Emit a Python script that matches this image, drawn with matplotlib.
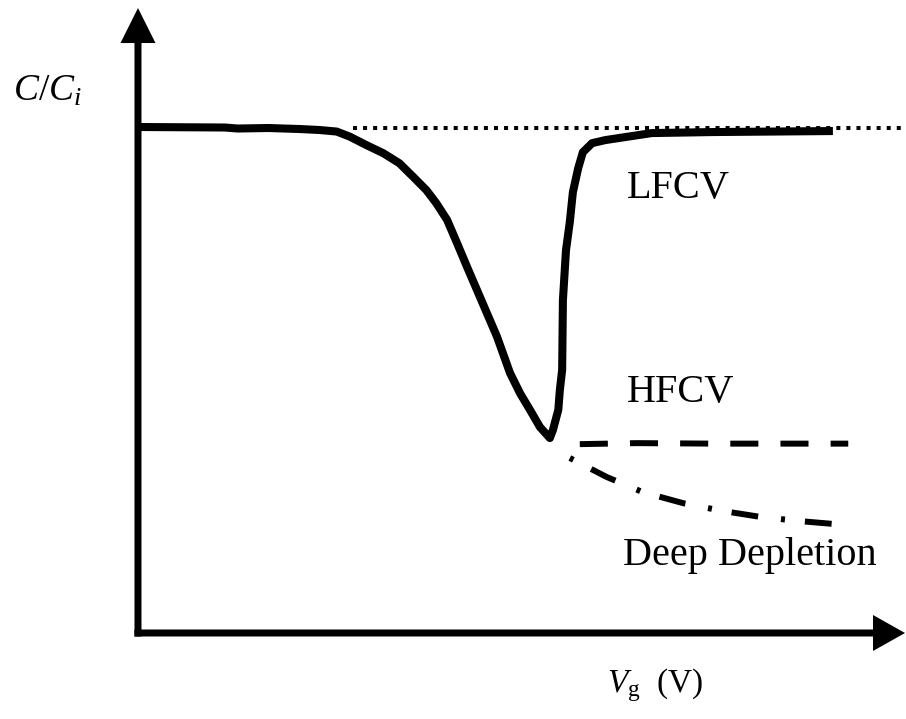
import matplotlib
matplotlib.use("Agg")
import matplotlib.pyplot as plt

plt.rcParams['font.family'] = ['Liberation Serif', 'DejaVu Serif']
plt.rcParams['mathtext.fontset'] = 'custom'
plt.rcParams['mathtext.rm'] = 'Liberation Serif'
plt.rcParams['mathtext.it'] = 'Liberation Serif:italic'

# Low-frequency C-V curve (gate voltage in arbitrary units, normalised capacitance)
lf_v = [0.00, 1.13, 1.30, 1.70, 2.11, 2.37, 2.59, 2.76, 2.98, 3.20, 3.41, 3.59, 3.76,
        3.89, 4.03, 4.16, 4.29, 4.42, 4.55, 4.68, 4.85, 4.98, 5.11, 5.24, 5.37, 5.41,
        5.48, 5.50, 5.53, 5.54, 5.58, 5.63, 5.67, 5.74, 5.80, 5.92, 6.09, 6.35, 6.70,
        7.50, 9.06]
lf_c = [1.002, 1.001, 0.999, 1.000, 0.998, 0.996, 0.993, 0.983, 0.966, 0.950, 0.930,
        0.903, 0.877, 0.851, 0.818, 0.772, 0.725, 0.679, 0.633, 0.587, 0.515, 0.475,
        0.442, 0.408, 0.386, 0.402, 0.442, 0.481, 0.521, 0.659, 0.758, 0.814, 0.873,
        0.921, 0.952, 0.970, 0.976, 0.982, 0.990, 0.992, 0.994]

# Ideal (insulator) capacitance level
ideal_v = [2.80, 10.0]
ideal_c = [1.0, 1.0]

# High-frequency C-V
hf_v = [5.76, 6.50, 7.50, 8.50, 9.26]
hf_c = [0.374, 0.376, 0.375, 0.375, 0.375]

# Deep depletion
dd_v = [5.63, 6.11, 6.58, 7.11, 7.61, 8.11, 8.60, 9.06]
dd_c = [0.3465, 0.309, 0.279, 0.257, 0.242, 0.230, 0.222, 0.216]

labels = ["LFCV", "HFCV", "Deep Depletion"]

fig = plt.figure(figsize=(9.06, 7.19), dpi=100)
ax = fig.add_axes([0, 0, 1, 1])
ax.set_xlim(-1.799, 10.013)
ax.set_ylim(-0.1703, 1.2535)
ax.axis('off')

# axes with arrow heads
ax.arrow(-0.046, 0, 10.0 + 0.046, 0, width=7 / 505, head_width=36 / 505,
         head_length=32 / 76.7, length_includes_head=True, color='k', lw=0)
ax.arrow(0, -0.007, 0, 1.2376 + 0.007, width=7 / 76.7, head_width=35 / 76.7,
         head_length=35 / 505, length_includes_head=True, color='k', lw=0)

ax.plot(ideal_v, ideal_c, color='k', lw=2.9, linestyle=(0, (1, 1.5)))
ax.plot(lf_v, lf_c, color='k', lw=5.8, solid_capstyle='butt', solid_joinstyle='round')
ax.plot(hf_v, hf_c, color='k', lw=4.3, linestyle=(0, (4.7, 3.7)))
ax.plot(dd_v, dd_c, color='k', lw=4.3, linestyle=(0, (0.67, 3.35, 4.5, 3.85)))

fs = 29
ax.text(6.375, 0.861, labels[0], fontsize=fs, ha='left', va='baseline')
ax.text(6.375, 0.457, labels[1], fontsize=fs, ha='left', va='baseline')
ax.text(6.32, 0.135, labels[2], fontsize=fs, ha='left', va='baseline')

ax.text(-1.63, 1.055, r"$C/C_i$", fontsize=27, ha='left', va='baseline')
ax.text(6.115, -0.117, r"$V_{\mathrm{g}}$  (V)", fontsize=24, ha='left', va='baseline')

fig.savefig("out.png", dpi=100)
